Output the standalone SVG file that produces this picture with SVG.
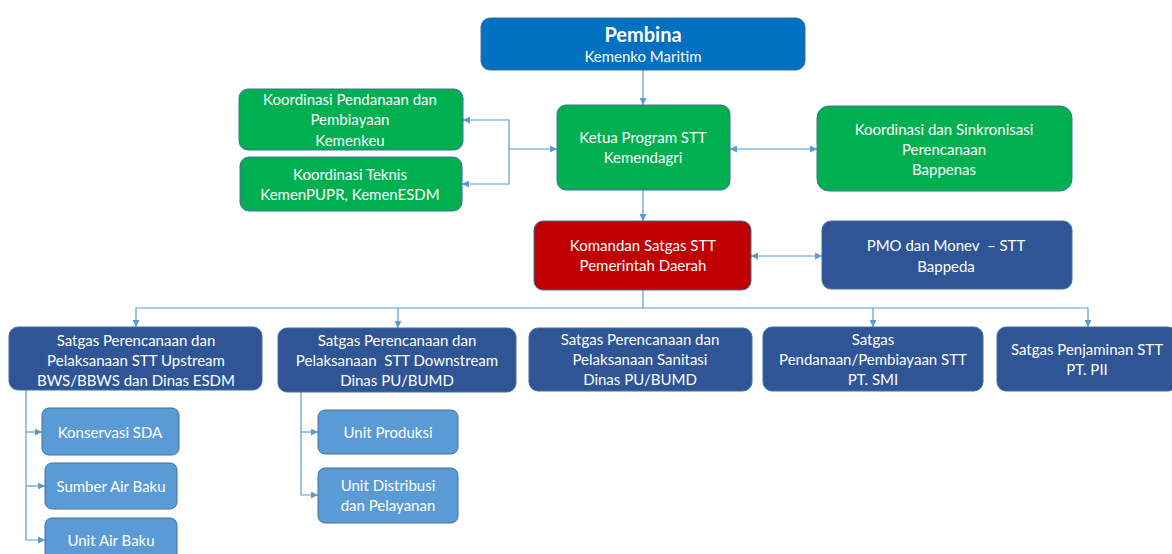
<svg xmlns="http://www.w3.org/2000/svg" width="1172" height="554" viewBox="0 0 1172 554">
<style>
text{font-family:Lato,"Liberation Sans",sans-serif;font-size:15px;fill:#fff;text-anchor:middle}
.b{stroke:#41719C;stroke-width:1}
.blue{fill:#0070C0}.green{fill:#00B050}.red{fill:#C00000}.navy{fill:#2F5597}.lb{fill:#5B9BD5}
.c{fill:none;stroke:#5B9BD5;stroke-width:1.2}
.t{font-size:20px;font-weight:bold}
</style>
<defs>
<marker id="a" viewBox="0 0 10 10" refX="10" refY="5" markerWidth="7" markerHeight="7" orient="auto-start-reverse" markerUnits="userSpaceOnUse"><path d="M0,0L10,5L0,10z" fill="#5B9BD5"/></marker>
</defs>
<g id="connectors">
<path class="c" d="M643,70V105" marker-end="url(#a)"/>
<path class="c" d="M509,149H557" marker-end="url(#a)"/>
<path class="c" d="M463,120H509V184H462" marker-start="url(#a)" marker-end="url(#a)"/>
<path class="c" d="M730,149H817" marker-start="url(#a)" marker-end="url(#a)"/>
<path class="c" d="M643,190V221" marker-end="url(#a)"/>
<path class="c" d="M751,256H822" marker-start="url(#a)" marker-end="url(#a)"/>
<path class="c" d="M643,290V308"/>
<path class="c" d="M136,327V308H1088V327" marker-start="url(#a)" marker-end="url(#a)"/>
<path class="c" d="M398,308V328" marker-end="url(#a)"/>
<path class="c" d="M873,308V327" marker-end="url(#a)"/>
<path class="c" d="M26,390V540H45" marker-end="url(#a)"/>
<path class="c" d="M26,432H42" marker-end="url(#a)"/>
<path class="c" d="M26,486H45" marker-end="url(#a)"/>
<path class="c" d="M301,392V495H318" marker-end="url(#a)"/>
<path class="c" d="M301,432H318" marker-end="url(#a)"/>
</g>
<g id="pembina"><rect class="b blue" x="481" y="18" width="324" height="52" rx="9"/><text class="t" x="643" y="42">Pembina</text><text x="643" y="62">Kemenko Maritim</text></g>
<g id="ketua"><rect class="b green" x="557" y="105" width="173" height="85" rx="9"/><text x="643" y="143">Ketua Program STT</text><text x="643" y="163">Kemendagri</text></g>
<g id="kemenkeu"><rect class="b green" x="239" y="89" width="224" height="61" rx="9"/><text x="350" y="105">Koordinasi Pendanaan dan</text><text x="350" y="125">Pembiayaan</text><text x="350" y="146">Kemenkeu</text></g>
<g id="teknis"><rect class="b green" x="240" y="157" width="222" height="54" rx="9"/><text x="350" y="180">Koordinasi Teknis</text><text x="350" y="200">KemenPUPR, KemenESDM</text></g>
<g id="bappenas"><rect class="b green" x="817" y="106" width="255" height="85" rx="12"/><text x="944" y="135">Koordinasi dan Sinkronisasi</text><text x="944" y="155">Perencanaan</text><text x="944" y="175">Bappenas</text></g>
<g id="komandan"><rect class="b red" x="534" y="221" width="217" height="69" rx="9"/><text x="643" y="251">Komandan Satgas STT</text><text x="643" y="271">Pemerintah Daerah</text></g>
<g id="pmo"><rect class="b navy" x="822" y="221" width="250" height="68" rx="9"/><text x="946" y="251" xml:space="preserve">PMO dan Monev  – STT</text><text x="946" y="272">Bappeda</text></g>
<g id="upstream"><rect class="b navy" x="9" y="327" width="253" height="63" rx="9"/><text x="136" y="346">Satgas Perencanaan dan</text><text x="136" y="366">Pelaksanaan STT Upstream</text><text x="136" y="386">BWS/BBWS dan Dinas ESDM</text></g>
<g id="downstream"><rect class="b navy" x="278" y="328" width="238" height="64" rx="9"/><text x="397" y="346">Satgas Perencanaan dan</text><text x="397" y="366" xml:space="preserve">Pelaksanaan  STT Downstream</text><text x="397" y="386">Dinas PU/BUMD</text></g>
<g id="sanitasi"><rect class="b navy" x="529" y="328" width="223" height="63" rx="9"/><text x="640" y="345">Satgas Perencanaan dan</text><text x="640" y="365">Pelaksanaan Sanitasi</text><text x="640" y="385">Dinas PU/BUMD</text></g>
<g id="smi"><rect class="b navy" x="763" y="327" width="220" height="64" rx="9"/><text x="873" y="345">Satgas</text><text x="873" y="365">Pendanaan/Pembiayaan STT</text><text x="873" y="385">PT. SMI</text></g>
<g id="pii"><rect class="b navy" x="997" y="327" width="180" height="64" rx="9"/><text x="1087" y="355">Satgas Penjaminan STT</text><text x="1087" y="375">PT. PII</text></g>
<g id="konservasi"><rect class="b lb" x="42" y="408" width="137" height="47" rx="7"/><text x="110" y="438">Konservasi SDA</text></g>
<g id="sumber"><rect class="b lb" x="45" y="463" width="132" height="46" rx="7"/><text x="111" y="492">Sumber Air Baku</text></g>
<g id="unitairbaku"><rect class="b lb" x="45" y="518" width="132" height="46" rx="7"/><text x="111" y="546">Unit Air Baku</text></g>
<g id="produksi"><rect class="b lb" x="318" y="410" width="140" height="44" rx="7"/><text x="388" y="438">Unit Produksi</text></g>
<g id="distribusi"><rect class="b lb" x="318" y="468" width="140" height="55" rx="7"/><text x="388" y="491">Unit Distribusi</text><text x="388" y="511">dan Pelayanan</text></g>
</svg>
